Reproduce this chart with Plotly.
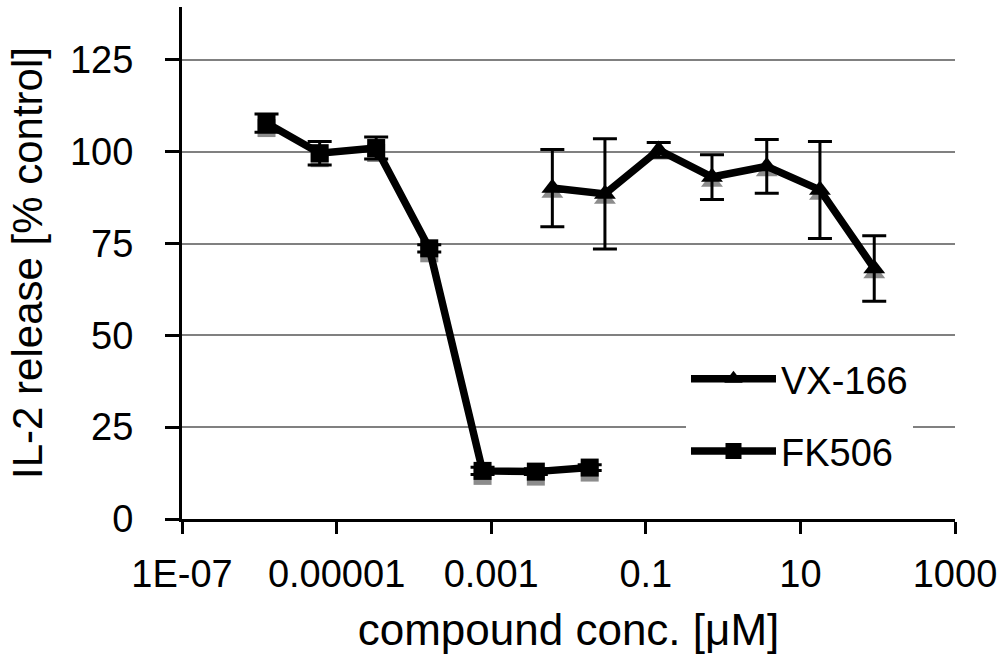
import plotly.graph_objects as go

# ---- data ----
fk_conc = [1.24e-6, 6.04e-6, 3.25e-5, 1.58e-4, 7.73e-4, 3.78e-3, 0.0188]
fk_vals = [107.8, 99.6, 101.0, 73.7, 13.1, 12.9, 14.0]
fk_err = [2.5, 3.2, 3.0, 1.0, 1.0, 0.8, 0.8]

vx_conc = [0.00618, 0.0296, 0.147, 0.718, 3.67, 17.9, 90.2]
vx_vals = [90.1, 88.5, 100.5, 93.1, 96.0, 89.6, 68.2]
vx_err = [10.5, 15.0, 2.0, 6.1, 7.3, 13.2, 8.9]

x_tickvals = [1e-7, 1e-5, 1e-3, 0.1, 10, 1000]
x_ticktext = ["1E-07", "0.00001", "0.001", "0.1", "10", "1000"]
y_tickvals = [0, 25, 50, 75, 100, 125]

FONT = "Liberation Sans, Arial, sans-serif"
Y_MAX = 139.4
SHADOW_SHIFT = 1.36  # y-units ~ 5 px

fig = go.Figure()

# shadows (drawn on base axis 'y', shifted range)
fig.add_trace(go.Scatter(x=vx_conc, y=vx_vals, mode="markers", yaxis="y",
                         marker=dict(symbol="triangle-up", size=19, color="#8c8c8c"),
                         showlegend=False, hoverinfo="skip"))
fig.add_trace(go.Scatter(x=fk_conc, y=fk_vals, mode="markers", yaxis="y",
                         marker=dict(symbol="square", size=18, color="#8c8c8c"),
                         showlegend=False, hoverinfo="skip"))

# main series on visible overlay axis 'y2'
fig.add_trace(go.Scatter(x=vx_conc, y=vx_vals, name="VX-166", mode="lines+markers", yaxis="y2",
                         line=dict(color="black", width=7.5),
                         marker=dict(symbol="triangle-up", size=19, color="black"),
                         error_y=dict(type="data", array=vx_err, color="black", thickness=3, width=12),
                         legendgroup="a"))
fig.add_trace(go.Scatter(x=fk_conc, y=fk_vals, name="FK506", mode="lines+markers", yaxis="y2",
                         line=dict(color="black", width=7.5),
                         marker=dict(symbol="square", size=18, color="black"),
                         error_y=dict(type="data", array=fk_err, color="black", thickness=3, width=12),
                         legendgroup="b"))

fig.update_layout(
    width=1004, height=666,
    margin=dict(l=182, r=47, t=7, b=147),
    paper_bgcolor="white", plot_bgcolor="white",
    font=dict(family=FONT, size=38, color="black"),
    xaxis=dict(type="log", range=[-7, 3], tickvals=x_tickvals, ticktext=x_ticktext,
               showgrid=False, zeroline=False,
               showline=True, linecolor="black", linewidth=3,
               ticks="outside", ticklen=12, tickwidth=2.5, tickcolor="black",
               ticklabelstandoff=7,
               tickfont=dict(size=38),
               title=dict(text="compound conc. [μM]", font=dict(size=44), standoff=21)),
    yaxis=dict(range=[SHADOW_SHIFT, Y_MAX + SHADOW_SHIFT], visible=False,
               showgrid=False, zeroline=False),
    yaxis2=dict(overlaying="y", side="left", anchor="x",
                range=[0, Y_MAX], tickvals=y_tickvals,
                showgrid=True, gridcolor="#808080", gridwidth=1.5, zeroline=False,
                showline=True, linecolor="black", linewidth=3,
                ticks="outside", ticklen=14, tickwidth=2.5, tickcolor="black",
                ticklabelstandoff=24,
                tickfont=dict(size=38),
                title=dict(text="IL-2 release [% control]", font=dict(size=42), standoff=15)),
    legend=dict(x=0.652, y=0.335, xanchor="left", yanchor="top",
                bgcolor="white", borderwidth=0, font=dict(size=38),
                traceorder="grouped", tracegroupgap=20, itemwidth=85),
    showlegend=True,
)

fig.write_html("out.html", config={"displayModeBar": False},
               post_script="document.body.style.margin='0';")
